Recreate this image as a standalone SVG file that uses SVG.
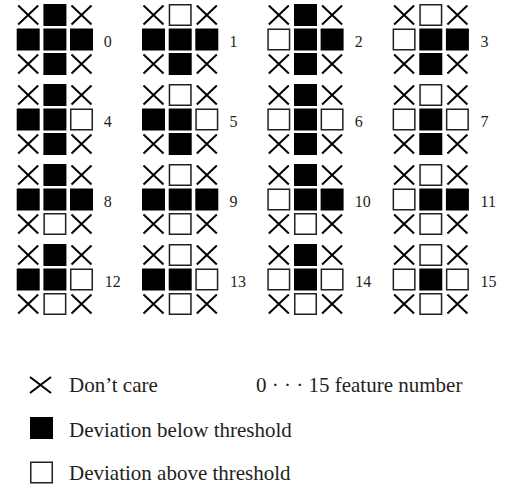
<svg xmlns="http://www.w3.org/2000/svg" xmlns:xlink="http://www.w3.org/1999/xlink" width="511" height="488" viewBox="0 0 511 488">
<style>
.x{stroke:#000;stroke-width:2;fill:none}
.b{fill:#000}
.w{fill:#fff;stroke:#231f20;stroke-width:1.5}
.lbl{font-family:"Liberation Serif","Times New Roman",serif;font-size:16px;fill:#231f20}
.leg{font-family:"Liberation Serif","Times New Roman",serif;font-size:21px;fill:#231f20}
</style>
<defs>
<path id="X" class="x" d="M1.5,1.5 L21.5,20.5 M21.5,1.5 L1.5,20.5"/>
<rect id="B" class="b" width="23" height="22"/>
<rect id="W" class="w" x="0.75" y="0.75" width="21.5" height="20.5"/>
<g id="corners">
<use href="#X" x="0" y="0"/><use href="#X" x="53.3" y="0"/><use href="#X" x="0" y="49"/><use href="#X" x="53.3" y="49"/>
<use href="#B" x="26.7" y="24.5"/>
</g>
</defs>
<rect width="511" height="488" fill="#fff"/>

<g id="feature-0" transform="translate(16.7,4)">
<use href="#corners"/><use href="#B" x="26.7" y="0"/><use href="#B" x="0" y="24.5"/><use href="#B" x="53.3" y="24.5"/><use href="#B" x="26.7" y="49"/>
<text class="lbl" x="87" y="42.7">0</text></g>
<g id="feature-1" transform="translate(142,4)">
<use href="#corners"/><use href="#W" x="26.7" y="0"/><use href="#B" x="0" y="24.5"/><use href="#B" x="53.3" y="24.5"/><use href="#B" x="26.7" y="49"/>
<text class="lbl" x="87.5" y="42.7">1</text></g>
<g id="feature-2" transform="translate(267.3,4)">
<use href="#corners"/><use href="#B" x="26.7" y="0"/><use href="#W" x="0" y="24.5"/><use href="#B" x="53.3" y="24.5"/><use href="#B" x="26.7" y="49"/>
<text class="lbl" x="87.5" y="42.7">2</text></g>
<g id="feature-3" transform="translate(392.6,4)">
<use href="#corners"/><use href="#W" x="26.7" y="0"/><use href="#W" x="0" y="24.5"/><use href="#B" x="53.3" y="24.5"/><use href="#B" x="26.7" y="49"/>
<text class="lbl" x="88" y="42.7">3</text></g>

<g id="feature-4" transform="translate(16.7,84)">
<use href="#corners"/><use href="#B" x="26.7" y="0"/><use href="#B" x="0" y="24.5"/><use href="#W" x="53.3" y="24.5"/><use href="#B" x="26.7" y="49"/>
<text class="lbl" x="87" y="42.7">4</text></g>
<g id="feature-5" transform="translate(142,84)">
<use href="#corners"/><use href="#W" x="26.7" y="0"/><use href="#B" x="0" y="24.5"/><use href="#W" x="53.3" y="24.5"/><use href="#B" x="26.7" y="49"/>
<text class="lbl" x="87.5" y="42.7">5</text></g>
<g id="feature-6" transform="translate(267.3,84)">
<use href="#corners"/><use href="#B" x="26.7" y="0"/><use href="#W" x="0" y="24.5"/><use href="#W" x="53.3" y="24.5"/><use href="#B" x="26.7" y="49"/>
<text class="lbl" x="87.5" y="42.7">6</text></g>
<g id="feature-7" transform="translate(392.6,84)">
<use href="#corners"/><use href="#W" x="26.7" y="0"/><use href="#W" x="0" y="24.5"/><use href="#W" x="53.3" y="24.5"/><use href="#B" x="26.7" y="49"/>
<text class="lbl" x="88" y="42.7">7</text></g>

<g id="feature-8" transform="translate(16.7,164)">
<use href="#corners"/><use href="#B" x="26.7" y="0"/><use href="#B" x="0" y="24.5"/><use href="#B" x="53.3" y="24.5"/><use href="#W" x="26.7" y="49"/>
<text class="lbl" x="87" y="42.7">8</text></g>
<g id="feature-9" transform="translate(142,164)">
<use href="#corners"/><use href="#W" x="26.7" y="0"/><use href="#B" x="0" y="24.5"/><use href="#B" x="53.3" y="24.5"/><use href="#W" x="26.7" y="49"/>
<text class="lbl" x="87.5" y="42.7">9</text></g>
<g id="feature-10" transform="translate(267.3,164)">
<use href="#corners"/><use href="#B" x="26.7" y="0"/><use href="#W" x="0" y="24.5"/><use href="#B" x="53.3" y="24.5"/><use href="#W" x="26.7" y="49"/>
<text class="lbl" x="87.5" y="42.7">10</text></g>
<g id="feature-11" transform="translate(392.6,164)">
<use href="#corners"/><use href="#W" x="26.7" y="0"/><use href="#W" x="0" y="24.5"/><use href="#B" x="53.3" y="24.5"/><use href="#W" x="26.7" y="49"/>
<text class="lbl" x="88" y="42.7">11</text></g>

<g id="feature-12" transform="translate(16.7,244)">
<use href="#corners"/><use href="#B" x="26.7" y="0"/><use href="#B" x="0" y="24.5"/><use href="#W" x="53.3" y="24.5"/><use href="#W" x="26.7" y="49"/>
<text class="lbl" x="88" y="42.7">12</text></g>
<g id="feature-13" transform="translate(142,244)">
<use href="#corners"/><use href="#W" x="26.7" y="0"/><use href="#B" x="0" y="24.5"/><use href="#W" x="53.3" y="24.5"/><use href="#W" x="26.7" y="49"/>
<text class="lbl" x="88" y="42.7">13</text></g>
<g id="feature-14" transform="translate(267.3,244)">
<use href="#corners"/><use href="#B" x="26.7" y="0"/><use href="#W" x="0" y="24.5"/><use href="#W" x="53.3" y="24.5"/><use href="#W" x="26.7" y="49"/>
<text class="lbl" x="88" y="42.7">14</text></g>
<g id="feature-15" transform="translate(392.6,244)">
<use href="#corners"/><use href="#W" x="26.7" y="0"/><use href="#W" x="0" y="24.5"/><use href="#W" x="53.3" y="24.5"/><use href="#W" x="26.7" y="49"/>
<text class="lbl" x="88" y="42.7">15</text></g>

<g id="legend">
<path class="x" d="M30,377 L51,393 M51,377 L30,393"/>
<text class="leg" x="69" y="392">Don’t care</text>
<text class="leg" x="256" y="392">0 · · · 15 feature number</text>
<use href="#B" x="30" y="417"/>
<text class="leg" x="69" y="437">Deviation below threshold</text>
<use href="#W" x="30" y="461.5"/>
<text class="leg" x="69" y="480">Deviation above threshold</text>
</g>
</svg>
